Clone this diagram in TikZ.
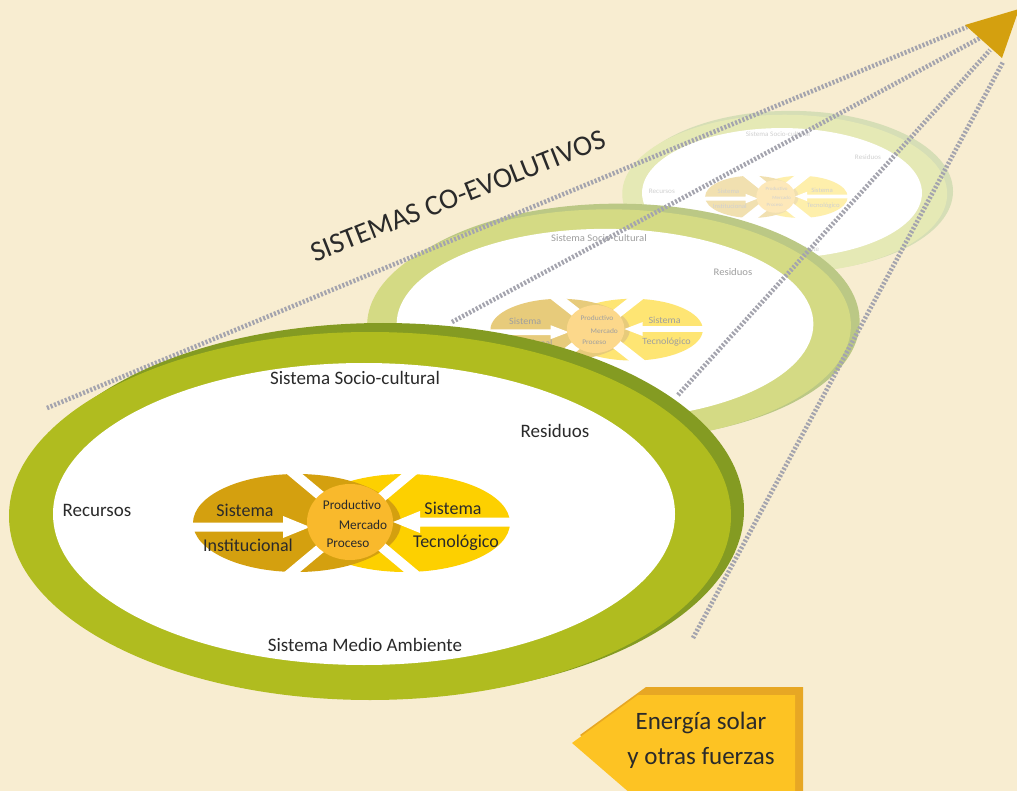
\documentclass[tikz,border=0pt]{standalone}
\usepackage{fontspec}
\setmainfont{Carlito}

\definecolor{fondo}{HTML}{F8EDD1}
\definecolor{anillo}{HTML}{B0BC1F}
\definecolor{sombra}{HTML}{849B22}
\definecolor{oro}{HTML}{D4A00F}
\definecolor{amarillo}{HTML}{FDD000}
\definecolor{naranja}{HTML}{F9B92C}
\definecolor{puntos}{HTML}{A4A4AE}
\definecolor{letrab}{HTML}{2A2A2A}
\definecolor{caja}{HTML}{FDC323}
\definecolor{cajaborde}{HTML}{E7A724}
\colorlet{letra}{letrab}

\tikzset{
  etiqueta/.style={text=letra, inner sep=0pt, font=\fontsize{19}{22}\selectfont},
  interior/.style={text=letra, inner sep=0pt, font=\fontsize{18}{21}\selectfont},
  centro/.style={text=letra, inner sep=0pt, font=\fontsize{13.3}{15}\selectfont},
  punteada/.style={draw=puntos, line width=4.6pt, dash pattern=on 2.1pt off 1.8pt},
}

% one layer of the co-evolving system: #1 name prefix, #2 colour %, #3 text %
\newcommand{\capa}[3]{%
  \colorlet{cSombra}{sombra!#2!white}%
  \colorlet{cAnillo}{anillo!#2!white}%
  \colorlet{cOro}{oro!#2!white}%
  \colorlet{cAmarillo}{amarillo!#2!white}%
  \colorlet{cNaranja}{naranja!#2!white}%
  \colorlet{letra}{letrab!#3!white}%
  % rings
  \fill[cSombra] (19,-4) ellipse [x radius=361pt, y radius=187pt];
  \fill[cAnillo] (6,2) ellipse [x radius=361pt, y radius=184pt];
  \fill[white] (0,0) ellipse [x radius=311pt, y radius=151pt];
  % the two systems
  \fill[cAmarillo] (41,9) ellipse [x radius=105pt, y radius=49pt];
  \fill[cOro] (-67,9) ellipse [x radius=104pt, y radius=49pt];
  \draw[white, line width=10pt] (-82,-50.5) -- (58,66.5) (58,-50.5) -- (-82,66.5);
  \fill[white] (-180,8.5) -- (-81,8.5) -- (-81,2) -- (-54,13) -- (-81,24)
    -- (-81,17.5) -- (-180,17.5) -- cycle;
  \fill[white] (150,3.5) -- (56,3.5) -- (56,-3) -- (29,8) -- (56,19)
    -- (56,12.5) -- (150,12.5) -- cycle;
  \fill[cNaranja] (-14,8) ellipse [x radius=43pt, y radius=38pt];
  % texts
  \node[interior] (#1sa) at (-119,-4) {Sistema};
  \node[interior] (#1in) at (-116,31) {Institucional};
  \node[interior] (#1sb) at (89,-6) {Sistema};
  \node[interior] (#1te) at (92,29) {Tecnológico};
  \node[centro] (#1pr) at (-12,-9) {Productivo};
  \node[centro] (#1me) at (-1,11) {Mercado};
  \node[centro] (#1pc) at (-16,29) {Proceso};
  \node[etiqueta] (#1so) at (-9,-136) {Sistema Socio-cultural};
  \node[etiqueta] (#1rs) at (191,-83) {Residuos};
  \node[etiqueta] (#1ma) at (1,131) {Sistema Medio Ambiente};
}

\begin{document}
\begin{tikzpicture}[x=1pt, y=-1pt]
  \fill[fondo] (0,0) rectangle (1017,791);
  \useasboundingbox (0,0) rectangle (1017,791);

  % back and middle layers
  \begin{scope}[shift={(782,193)}, xscale=0.45, yscale=0.43, transform shape,
      every node/.append style={scale=0.84}]
    \capa{t}{33}{22}
    \node[etiqueta] (tre) at (-267,-4) {Recursos};
  \end{scope}
  \begin{scope}[shift={(605,324)}, xscale=0.67, yscale=0.63, transform shape,
      every node/.append style={scale=0.84}]
    \capa{m}{55}{45}
  \end{scope}

  % perspective lines
  \coordinate (a1) at (47,408);
  \coordinate (b1) at (967,27);
  \coordinate (a2) at (452,322);
  \coordinate (b2) at (980,38);
  \coordinate (a3) at (678,395);
  \coordinate (b3) at (990,50);
  \coordinate (a4) at (693,638);
  \coordinate (b4) at (1003,62);
  \draw[punteada] (a1) -- (b1);
  \draw[punteada] (a2) -- (b2);
  \draw[punteada] (a3) -- (b3);
  \draw[punteada] (a4) -- (b4);

  % front layer
  \begin{scope}[shift={(364,514)}]
    \capa{f}{100}{100}
    \node[etiqueta] (fre) at (-267,-4) {Recursos};
  \end{scope}

  % apex
  \coordinate (pa) at (965,25);
  \coordinate (pb) at (1019,9);
  \coordinate (pc) at (1002,58);
  \fill[oro] (pa) -- (pb) -- (pc) -- cycle;

  \node[text=letrab, rotate=21.5, font=\fontsize{28.8}{32}\selectfont]
    (titulo) at (458,196) {SISTEMAS CO-EVOLUTIVOS};

  % energy box
  \fill[cajaborde] (646,687) -- (803,687) -- (803,800) -- (646,800) -- (580,735) -- cycle;
  \fill[caja] (638,695) -- (795,695) -- (795,800) -- (638,800) -- (572,743) -- cycle;
  \node[text=letrab, align=center, font=\fontsize{25}{35}\selectfont]
    (energia) at (701,740) {Energía solar\\y otras fuerzas};
\end{tikzpicture}
\end{document}
